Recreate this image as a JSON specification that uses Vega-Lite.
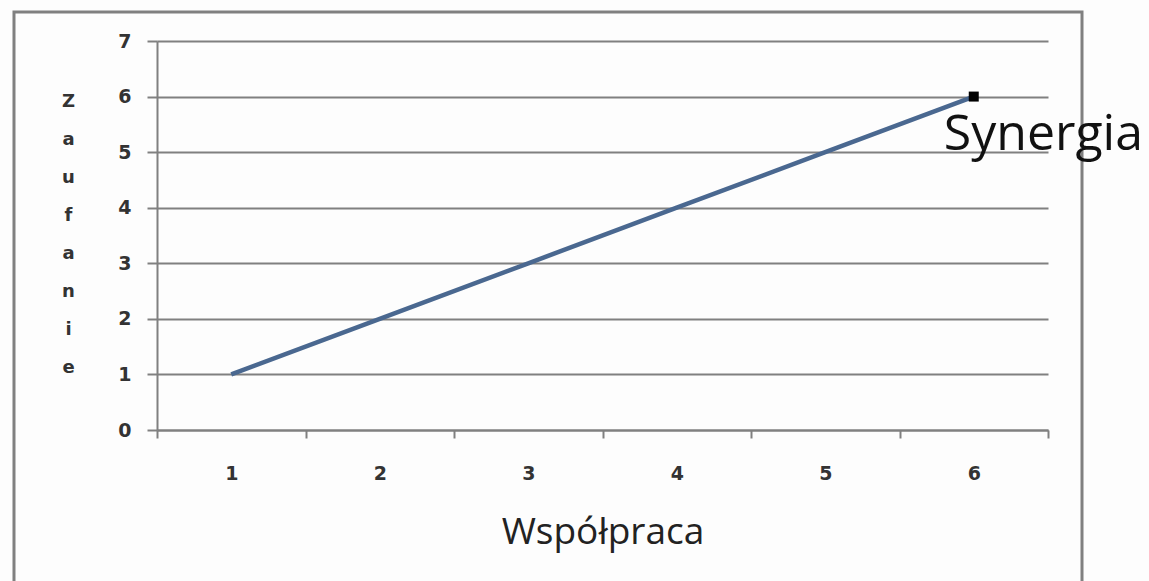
{
  "$schema": "https://vega.github.io/schema/vega-lite/v6.json",
  "width": 891,
  "height": 389,
  "autosize": "none",
  "padding": {"left": 157, "top": 41, "right": 101, "bottom": 151},
  "background": "#fdfdfd",
  "config": {"view": {"stroke": null}},
  "data": {
    "values": [
      {"wspolpraca": 1, "zaufanie": 1, "label": ""},
      {"wspolpraca": 2, "zaufanie": 2, "label": ""},
      {"wspolpraca": 3, "zaufanie": 3, "label": ""},
      {"wspolpraca": 4, "zaufanie": 4, "label": ""},
      {"wspolpraca": 5, "zaufanie": 5, "label": ""},
      {"wspolpraca": 6, "zaufanie": 6, "label": "Synergia"}
    ]
  },
  "layer": [
    {
      "data": {"values": [{}]},
      "mark": {"type": "rect", "fillOpacity": 0, "stroke": "#808080", "strokeWidth": 3, "clip": false},
      "encoding": {
        "x": {"datum": -0.463, "type": "quantitative"},
        "x2": {"datum": 6.729},
        "y": {"datum": 7.52, "type": "quantitative"},
        "y2": {"datum": -3}
      }
    },
    {
      "mark": {"type": "line", "color": "#4a6890", "strokeWidth": 4.5},
      "encoding": {
        "x": {
          "field": "wspolpraca",
          "type": "quantitative",
          "scale": {"domain": [0.5, 6.5], "nice": false, "zero": false},
          "axis": {
            "values": [0.5, 1, 1.5, 2, 2.5, 3, 3.5, 4, 4.5, 5, 5.5, 6, 6.5],
            "labelExpr": "datum.value % 1 == 0 ? format(datum.value, 'd') : ''",
            "tickOpacity": {"condition": {"test": "datum.value % 1 == 0", "value": 0}, "value": 1},
            "grid": false,
            "tickSize": 8,
            "tickWidth": 2,
            "tickColor": "#808080",
            "domainColor": "#808080",
            "domainWidth": 2,
            "labelFont": "DejaVu Sans",
            "labelFontWeight": "bold",
            "labelFontSize": 19,
            "labelColor": "#333333",
            "labelPadding": 26,
            "labelOverlap": false,
            "labelFlush": false,
            "title": "Współpraca",
            "titleFont": "Open Sans",
            "titleFontWeight": "normal",
            "titleFontSize": 37,
            "titleColor": "#222222",
            "titleBaseline": "alphabetic",
            "titleY": 113
          }
        },
        "y": {
          "field": "zaufanie",
          "type": "quantitative",
          "scale": {"domain": [0, 7], "nice": false, "zero": false},
          "axis": {
            "values": [0, 1, 2, 3, 4, 5, 6, 7],
            "format": "d",
            "grid": true,
            "gridColor": "#808080",
            "gridWidth": 2,
            "tickSize": 10,
            "tickWidth": 2,
            "tickColor": "#808080",
            "domainColor": "#808080",
            "domainWidth": 2,
            "labelFont": "DejaVu Sans",
            "labelFontWeight": "bold",
            "labelFontSize": 19,
            "labelColor": "#333333",
            "labelPadding": 16,
            "labelOverlap": false,
            "labelFlush": false,
            "title": ["Z", "a", "u", "f", "a", "n", "i", "e"],
            "titleAngle": 0,
            "titleX": -89,
            "titleY": 51,
            "titleAlign": "center",
            "titleBaseline": "top",
            "titleLineHeight": 38,
            "titleFont": "DejaVu Sans",
            "titleFontWeight": "bold",
            "titleFontSize": 18,
            "titleColor": "#333333"
          }
        }
      }
    },
    {
      "transform": [{"filter": "datum.label != ''"}],
      "mark": {"type": "point", "shape": "square", "filled": true, "color": "#000000", "size": 100, "opacity": 1},
      "encoding": {
        "x": {"field": "wspolpraca", "type": "quantitative"},
        "y": {"field": "zaufanie", "type": "quantitative"}
      }
    },
    {
      "transform": [{"filter": "datum.label != ''"}],
      "mark": {"type": "text", "align": "left", "baseline": "alphabetic", "dx": -30, "dy": 53, "font": "Open Sans", "fontSize": 50, "color": "#111111", "clip": false},
      "encoding": {
        "x": {"field": "wspolpraca", "type": "quantitative"},
        "y": {"field": "zaufanie", "type": "quantitative"},
        "text": {"field": "label"}
      }
    }
  ]
}
